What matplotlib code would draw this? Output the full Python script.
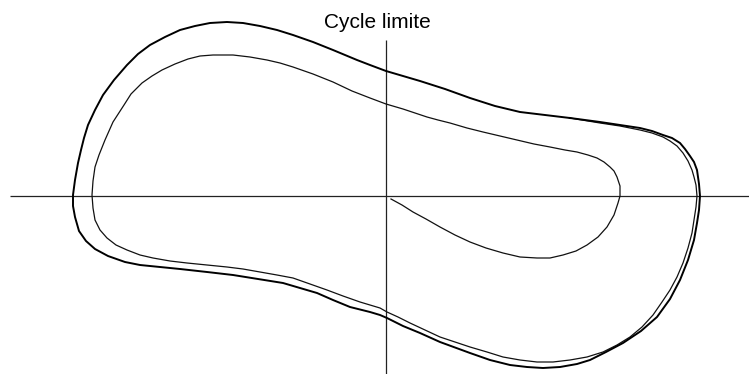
import numpy as np
import matplotlib.pyplot as plt

plt.rcParams['font.family'] = ['Liberation Sans', 'DejaVu Sans']

# trajectory leaving the origin and winding out towards the cycle
transient_x = [0.05, 0.16, 0.27, 0.40, 0.54, 0.69, 0.84, 1.00, 1.17, 1.34, 1.51, 1.64, 1.77, 1.90,
               2.01, 2.12, 2.21, 2.28, 2.32, 2.34, 2.34, 2.31, 2.28, 2.24, 2.18, 2.11, 2.02, 1.91,
               1.79, 1.64, 1.48, 1.31, 1.14, 0.97, 0.81, 0.64, 0.52, 0.41, 0.29, 0.17, 0.00, -0.16,
               -0.34, -0.53, -0.73, -0.93, -1.06, -1.19, -1.36, -1.53, -1.73, -1.86, -1.98, -2.11,
               -2.24, -2.34, -2.44, -2.55, -2.62, -2.73, -2.81, -2.87, -2.91, -2.93, -2.94, -2.93,
               -2.91, -2.86, -2.79, -2.70, -2.59, -2.46, -2.33, -2.16, -1.99, -1.79, -1.59, -1.43,
               -1.26, -1.09, -0.93, -0.76, -0.59, -0.43, -0.26, -0.16, -0.06, 0.01, 0.12, 0.24,
               0.39, 0.54, 0.69, 0.84, 1.01, 1.17, 1.34, 1.51, 1.67, 1.84, 2.01, 2.17, 2.31, 2.44,
               2.56, 2.67, 2.76, 2.84, 2.91, 2.97, 3.02, 3.06, 3.08, 3.10, 3.11, 3.10, 3.08, 3.06,
               3.02, 2.97, 2.91, 2.84, 2.77, 2.66, 2.54, 2.34, 2.14, 1.84]
transient_y = [-0.03, -0.09, -0.16, -0.23, -0.31, -0.39, -0.46, -0.52, -0.57, -0.61, -0.62, -0.62,
               -0.59, -0.55, -0.49, -0.41, -0.31, -0.19, -0.07, 0.00, 0.10, 0.19, 0.25, 0.29, 0.34,
               0.38, 0.41, 0.44, 0.46, 0.49, 0.52, 0.56, 0.60, 0.64, 0.68, 0.73, 0.76, 0.79, 0.83,
               0.87, 0.92, 0.98, 1.05, 1.14, 1.22, 1.29, 1.33, 1.36, 1.39, 1.41, 1.41, 1.40, 1.37,
               1.32, 1.26, 1.20, 1.13, 1.02, 0.91, 0.74, 0.56, 0.41, 0.29, 0.15, 0.01, -0.12,
               -0.24, -0.34, -0.42, -0.49, -0.54, -0.59, -0.62, -0.65, -0.67, -0.69, -0.71, -0.73,
               -0.76, -0.79, -0.82, -0.88, -0.94, -1.00, -1.06, -1.09, -1.12, -1.16, -1.21, -1.27,
               -1.34, -1.41, -1.46, -1.51, -1.56, -1.61, -1.64, -1.66, -1.66, -1.64, -1.61, -1.56,
               -1.49, -1.41, -1.31, -1.19, -1.06, -0.94, -0.81, -0.67, -0.52, -0.37, -0.24, -0.11,
               0.00, 0.11, 0.19, 0.26, 0.35, 0.43, 0.50, 0.55, 0.59, 0.63, 0.66, 0.70, 0.73, 0.78]

# the limit cycle itself (closed)
cycle_x = [1.84, 1.59, 1.34, 1.09, 0.84, 0.59, 0.34, 0.17, 0.00, -0.16, -0.29, -0.41, -0.53, -0.73,
           -0.93, -1.09, -1.26, -1.43, -1.59, -1.76, -1.91, -2.06, -2.21, -2.36, -2.48, -2.59,
           -2.72, -2.83, -2.91, -2.98, -3.02, -3.05, -3.08, -3.11, -3.13, -3.13, -3.11, -3.07,
           -3.00, -2.91, -2.78, -2.61, -2.46, -2.26, -2.06, -1.79, -1.53, -1.28, -1.03, -0.86,
           -0.69, -0.53, -0.36, -0.16, -0.06, 0.01, 0.17, 0.34, 0.54, 0.84, 1.04, 1.24, 1.41,
           1.57, 1.74, 1.91, 2.04, 2.20, 2.37, 2.55, 2.71, 2.84, 2.94, 3.02, 3.08, 3.11, 3.13,
           3.14, 3.13, 3.11, 3.08, 3.04, 2.99, 2.94, 2.86, 2.77, 2.66, 2.54, 2.34, 2.14, 1.84]
cycle_y = [0.78, 0.81, 0.84, 0.90, 0.98, 1.07, 1.15, 1.20, 1.25, 1.31, 1.36, 1.41, 1.46, 1.54, 1.61,
           1.66, 1.70, 1.73, 1.74, 1.73, 1.70, 1.66, 1.59, 1.51, 1.42, 1.31, 1.16, 1.01, 0.86,
           0.71, 0.58, 0.46, 0.33, 0.16, 0.01, -0.10, -0.21, -0.35, -0.45, -0.53, -0.60, -0.66,
           -0.69, -0.71, -0.73, -0.76, -0.79, -0.83, -0.87, -0.92, -0.97, -1.04, -1.11, -1.16,
           -1.19, -1.22, -1.30, -1.37, -1.46, -1.57, -1.64, -1.69, -1.71, -1.72, -1.71, -1.68,
           -1.64, -1.56, -1.47, -1.35, -1.21, -1.03, -0.84, -0.64, -0.44, -0.27, -0.14, 0.00,
           0.12, 0.26, 0.34, 0.40, 0.47, 0.53, 0.58, 0.61, 0.65, 0.68, 0.71, 0.74, 0.78]

fig = plt.figure(figsize=(7.49, 3.74), dpi=100)
ax = fig.add_axes([0, 0, 1, 1])
ax.set_xlim(-3.86, 3.63)
ax.set_ylim(-1.78, 1.96)
ax.axis('off')

# axes through the origin
ax.hlines(0, -3.76, 3.63, color='#222222', lw=0.9)
ax.vlines(0, -1.78, 1.56, color='#222222', lw=0.9)

ax.plot(transient_x, transient_y, color='#111111', lw=0.9, solid_joinstyle='round')
ax.plot(cycle_x, cycle_y, color='black', lw=1.4, solid_joinstyle='round')

ax.text(-0.09, 1.68, 'Cycle limite', ha='center', va='baseline', fontsize=15)

fig.savefig('out.png', dpi=100)
